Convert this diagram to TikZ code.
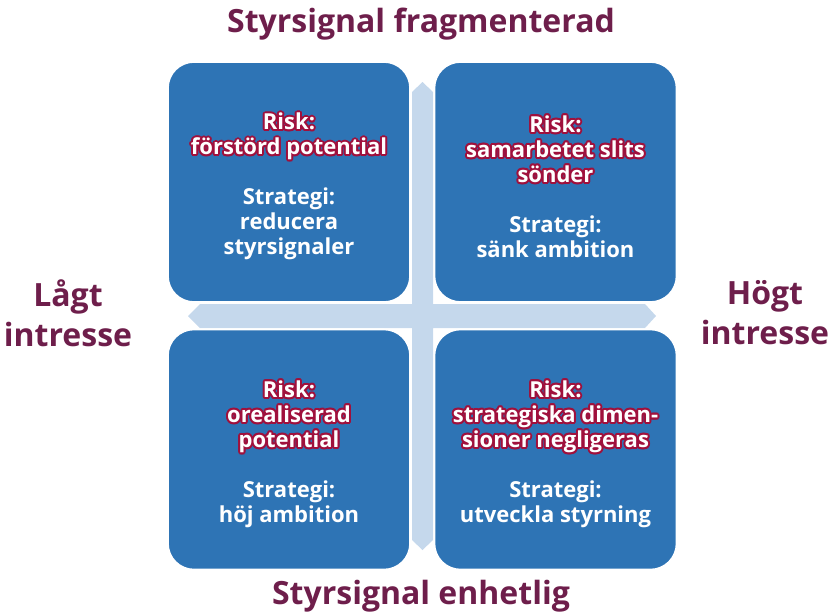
\documentclass[tikz,border=0pt]{standalone}
\usepackage{fontspec}
\setmainfont{Open Sans}
\usetikzlibrary{positioning}
\definecolor{boxblue}{RGB}{46,116,181}
\definecolor{crossblue}{RGB}{197,216,236}
\definecolor{plum}{RGB}{110,30,75}
\definecolor{riskred}{RGB}{160,16,60}
\colorlet{riskc}{white}
\colorlet{stratc}{white}
\newcommand{\strat}{\color{stratc}}
% text of one quadrant: white risk lines with a red rim, then the strategy
\newcommand{\quadtext}[4]{%
  \colorlet{riskc}{riskred}\colorlet{stratc}{boxblue}%
  \foreach \a in {0,30,...,330}
    \node[quadlabel, shift={(\a:1.5pt)}] at (#2) {#3\\[18.75pt]#4};
  \colorlet{riskc}{white}\colorlet{stratc}{white}%
  \node[quadlabel] (#1) at (#2) {#3\\[18.75pt]#4};}
\tikzset{
  quadbox/.style={fill=boxblue, draw=white, line width=1.2pt, rounded corners=19.5pt,
    minimum width=181.5pt, minimum height=180pt, inner sep=0pt},
  quadlabel/.style={text=riskc, font=\fontsize{16.5}{18.75}\selectfont\bfseries,
    align=center, inner sep=0pt, yshift=-3.5pt},
  axislabel/.style={text=plum, font=\fontsize{24}{30}\selectfont\bfseries,
    align=center, inner sep=0pt}
}
\begin{document}
\begin{tikzpicture}[x=0.75pt,y=-0.75pt]
\useasboundingbox (0,0) rectangle (831,614);
% the light cross behind the boxes
\fill[crossblue] (412,92) -- (422.5,82) -- (433,92) -- (433,304) -- (645,304)
  -- (656,316) -- (645,328) -- (433,328) -- (433,540) -- (422.5,550)
  -- (412,540) -- (412,328) -- (200,328) -- (188,316) -- (200,304)
  -- (412,304) -- cycle;
% the four boxes
\node[quadbox] (tl) at (289,182) {};
\node[quadbox] (tr) at (555.5,182) {};
\node[quadbox] (bl) at (289,449.5) {};
\node[quadbox] (br) at (555.5,449.5) {};
% texts in the boxes
\quadtext{tltext}{tl.center}{Risk:\\förstörd potential}
  {\strat Strategi:\\\strat reducera\\\strat styrsignaler}
\quadtext{trtext}{tr.center}{Risk:\\samarbetet slits\\sönder}
  {\strat Strategi:\\\strat sänk ambition}
\quadtext{bltext}{bl.center}{Risk:\\orealiserad\\potential}
  {\strat Strategi:\\\strat höj ambition}
\quadtext{brtext}{br.center}{Risk:\\strategiska dimen-\\sioner negligeras}
  {\strat Strategi:\\\strat utveckla styrning}
% axis labels
\node[axislabel] (top) at (421,24) {Styrsignal fragmenterad};
\node[axislabel] (bottom) at (421,596) {Styrsignal enhetlig};
\node[axislabel] (left) at (68,313) {Lågt\\intresse};
\node[axislabel] (right) at (765,313) {Högt\\intresse};
\end{tikzpicture}
\end{document}
